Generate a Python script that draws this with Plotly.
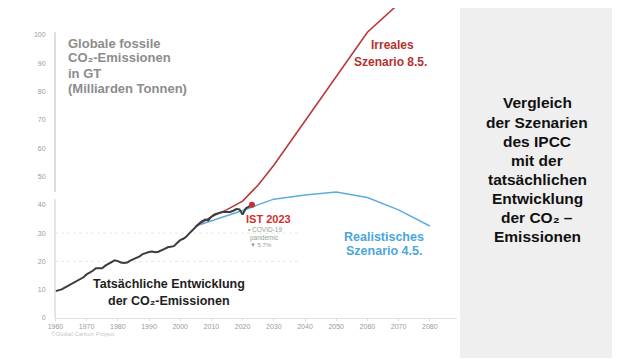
import plotly.graph_objects as go

# ---------------- data ----------------
hist_years = list(range(1960, 2024))
hist_values = [9.5, 9.7, 10.1, 10.7, 11.3, 11.8, 12.4, 12.9, 13.6, 14.4,
               15.4, 16.0, 16.7, 17.6, 17.5, 17.6, 18.5, 19.1, 19.7, 20.4,
               20.1, 19.6, 19.4, 19.6, 20.3, 20.8, 21.2, 21.8, 22.6, 23.0,
               23.3, 23.5, 23.2, 23.4, 23.8, 24.4, 25.0, 25.3, 25.4, 26.5,
               27.5, 28.0, 28.8, 30.0, 31.2, 32.3, 33.3, 34.2, 34.8, 34.5,
               35.8, 36.6, 37.0, 37.3, 37.5, 37.4, 37.5, 37.9, 38.5, 38.4,
               36.6, 38.7, 39.3, 40.0]

rcp85_years = [2005, 2010, 2015, 2020, 2025, 2030, 2040, 2050, 2060, 2070]
rcp85_values = [32.5, 35.8, 38.3, 41.3, 47.0, 54.0, 69.6, 85.5, 101.0, 111.0]

rcp45_years = [2005, 2010, 2020, 2030, 2040, 2050, 2060, 2070, 2080]
rcp45_values = [32.5, 34.3, 38.0, 42.0, 43.5, 44.5, 42.6, 38.2, 32.5]

ist_year = [2023]
ist_value = [40.0]

x_ticks = list(range(1960, 2090, 10))
y_ticks = list(range(0, 110, 10))

# ---------------- layout helpers (window pixel -> paper) ----------------
OFF = 8  # page body margin
W, H = 620 - OFF, 364 - OFF
L = 55 - OFF
R = W - (457 - OFF)
T = 0
B = H - (318 - OFF)
PW, PH = W - L - R, H - T - B
PX_PER_UNIT = 2.83
Y_MAX = (318 - OFF) / PX_PER_UNIT


def PX(x):
    return (x - OFF - L) / PW


def PY(y):
    return (H - B - (y - OFF)) / PH


FONT = "Liberation Sans, Arial, sans-serif"

fig = go.Figure()

fig.add_trace(go.Scatter(x=rcp45_years, y=rcp45_values, mode="lines",
                         line=dict(color="#5aaedd", width=1.5),
                         hoverinfo="skip", showlegend=False))
fig.add_trace(go.Scatter(x=rcp85_years, y=rcp85_values, mode="lines",
                         line=dict(color="#b83a3a", width=1.6),
                         hoverinfo="skip", showlegend=False))
fig.add_trace(go.Scatter(x=hist_years, y=hist_values, mode="lines",
                         line=dict(color="#3c3c3c", width=2),
                         hoverinfo="skip", showlegend=False))
fig.add_trace(go.Scatter(x=ist_year, y=ist_value, mode="markers",
                         marker=dict(color="#c8302c", size=6),
                         hoverinfo="skip", showlegend=False))

shapes = []
# right grey panel
shapes.append(dict(type="rect", xref="paper", yref="paper",
                   x0=PX(460), x1=PX(624), y0=PY(358), y1=PY(3),
                   fillcolor="#efefef", line=dict(width=0), layer="below"))
# y axis line (with small break)
shapes.append(dict(type="line", xref="paper", yref="y", x0=0, x1=0,
                   y0=0, y1=42, line=dict(color="#dcdcdc", width=1.5)))
shapes.append(dict(type="line", xref="paper", yref="y", x0=0, x1=0,
                   y0=44.5, y1=101, line=dict(color="#d0d0d0", width=1.5)))
# faint dotted grid lines
for gv in [20, 30]:
    shapes.append(dict(type="line", xref="paper", yref="y", x0=0, x1=PX(300),
                       y0=gv, y1=gv, line=dict(color="#e6e6e6", width=1, dash="dot"),
                       layer="below"))

annotations = []


def txt(text, x, y, size, color, anchor="left", bold=True):
    annotations.append(dict(text=("<b>%s</b>" % text) if bold else text,
                            xref="paper", yref="paper", x=PX(x), y=PY(y),
                            xanchor=anchor, yanchor="middle", showarrow=False,
                            font=dict(family=FONT, size=size, color=color)))


grey = "#8c8c8c"
txt("Globale fossile", 66, 43, 13, grey)
txt("CO₂-Emissionen", 66, 58, 13, grey)
txt("in GT", 66, 73, 13, grey)
txt("(Milliarden Tonnen)", 66, 88, 13, grey)

red = "#b3312f"
txt("Irreales", 392, 45, 12, red, "center")
txt("Szenario 8.5.", 390, 62, 12, red, "center")

txt("IST 2023", 268, 219, 11, "#d0302c", "center")

green = "#8fa68f"
txt("• COVID-19", 246, 230, 6.5, green, "left", False)
txt("pandemic", 248, 238, 6.5, green, "left", False)
txt("▼ 5.7%", 248, 245, 6, green, "left", False)

blue = "#4aa6dc"
txt("Realistisches", 384, 237, 12.5, blue, "center")
txt("Szenario 4.5.", 384, 251, 12.5, blue, "center")

txt("Tatsächliche Entwicklung", 169, 284, 12.5, "#1e1e1e", "center")
txt("der CO₂-Emissionen", 169, 301, 12.5, "#1e1e1e", "center")

panel_lines = ["Vergleich", "der Szenarien", "des IPCC", "mit der",
               "tatsächlichen", "Entwicklung", "der CO₂ –", "Emissionen"]
for i, line in enumerate(panel_lines):
    txt(line, 537, 103 + i * 19, 15.5, "#111111", "center")

txt("©Global Carbon Project", 49, 334, 6, "#c8c8c8", "left", False)

fig.update_layout(
    width=W, height=H,
    margin=dict(l=L, r=R, t=T, b=B, pad=0),
    paper_bgcolor="white", plot_bgcolor="rgba(0,0,0,0)",
    shapes=shapes, annotations=annotations,
    xaxis=dict(range=[1959.87, 2088.72], tickvals=x_ticks,
               ticktext=[str(v) for v in x_ticks],
               showgrid=False, zeroline=False, showline=True,
               linecolor="#e0e0e0", linewidth=1,
               ticks="outside", ticklen=2, tickcolor="#dddddd",
               tickfont=dict(family=FONT, size=7, color="#9a9a9a")),
    yaxis=dict(range=[0, Y_MAX], tickvals=y_ticks,
               showgrid=False, zeroline=False, showline=False,
               ticks="outside", ticklen=7, tickcolor="rgba(0,0,0,0)",
               tickfont=dict(family=FONT, size=7, color="#9a9a9a")),
)

fig.write_html("out.html")
